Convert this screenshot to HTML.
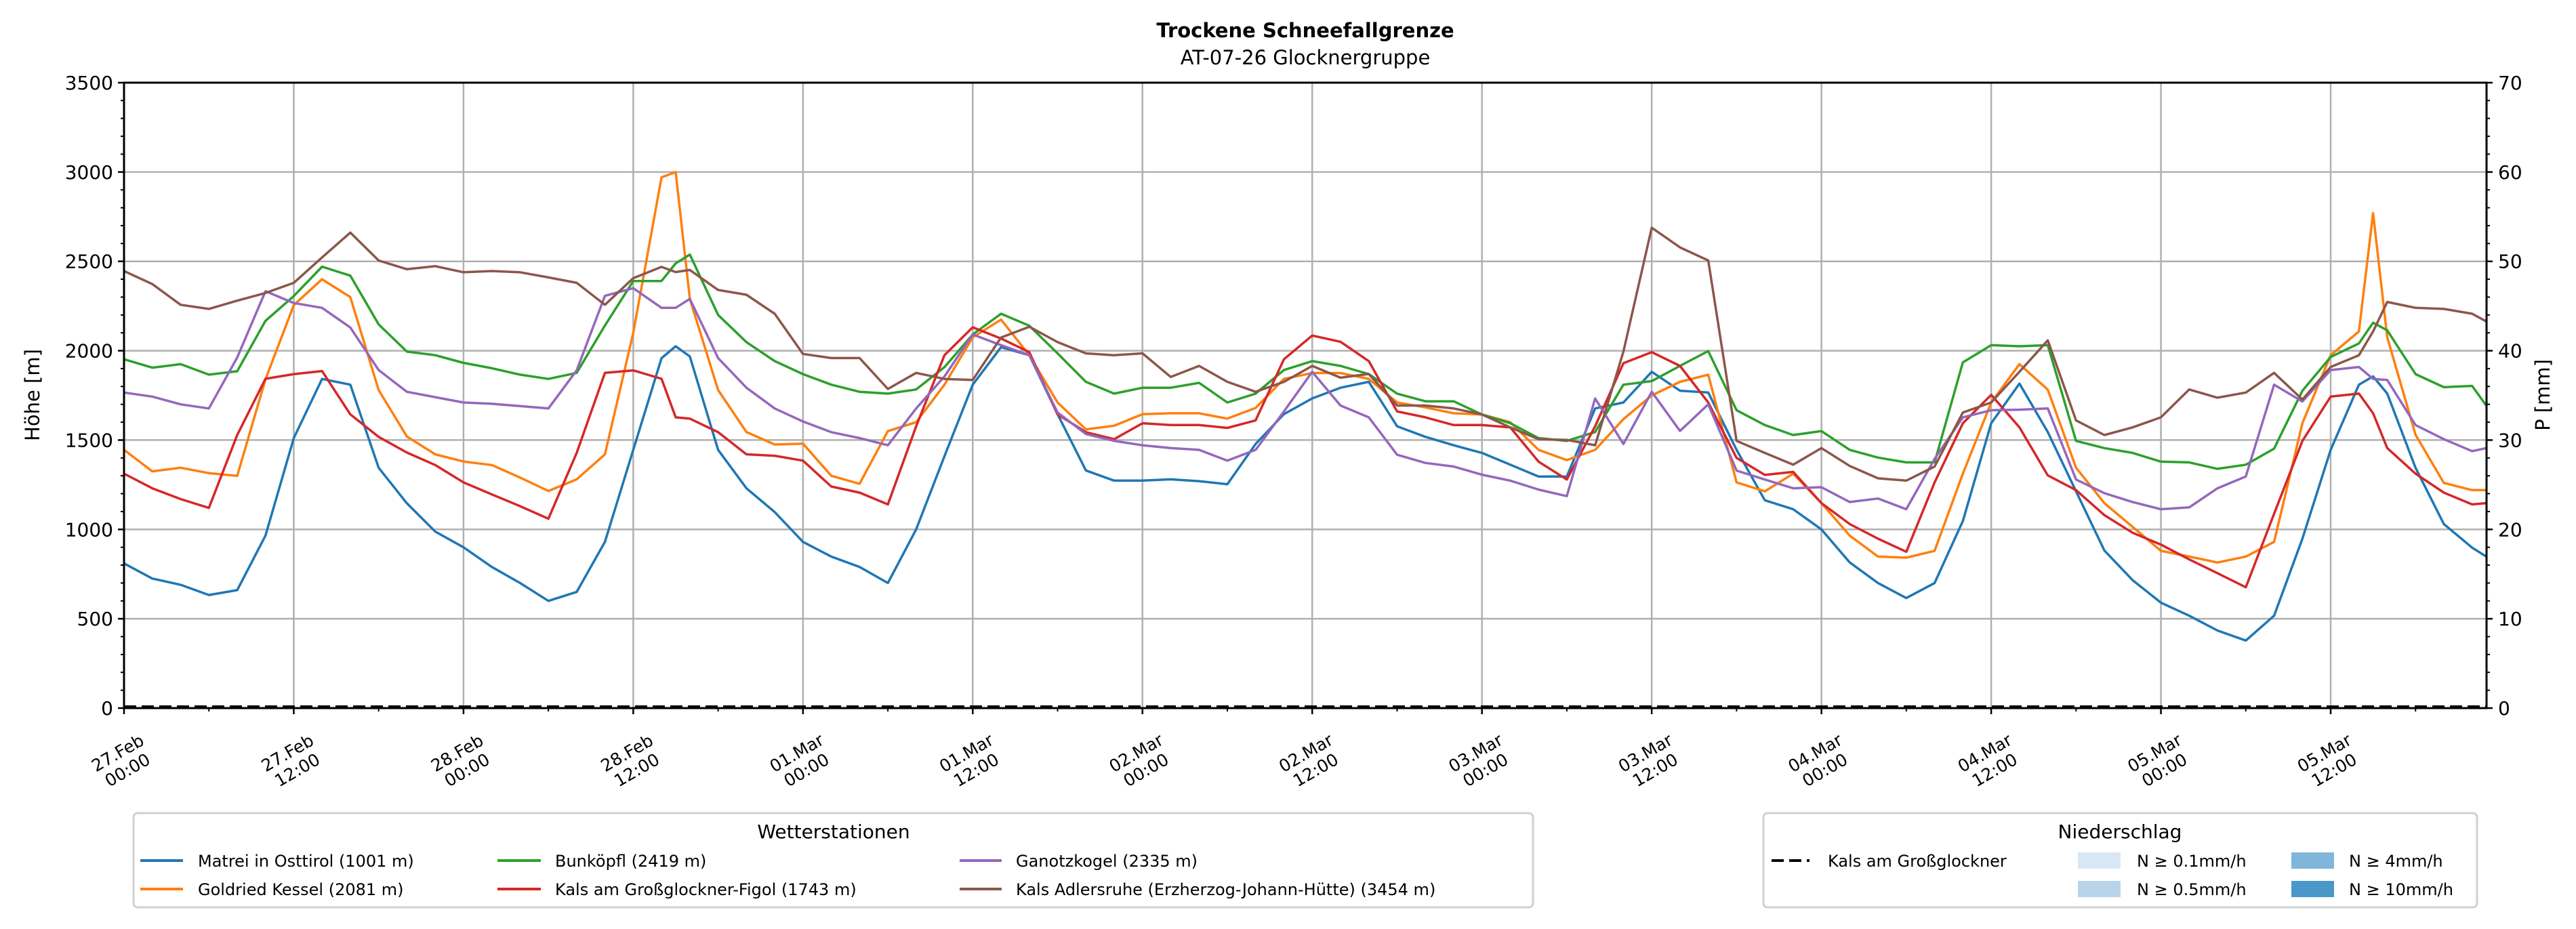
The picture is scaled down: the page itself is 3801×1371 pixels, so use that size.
<!DOCTYPE html>
<html><head><meta charset="utf-8">
<style>
html,body{margin:0;padding:0;background:#fff;}
svg{display:block;font-family:"DejaVu Sans","Liberation Sans",sans-serif;}
</style></head>
<body>
<svg id="chart" width="3801" height="1371" viewBox="0 0 3801 1371" xmlns="http://www.w3.org/2000/svg">
<rect width="3801" height="1371" fill="#fff"/>
<text x="1926" y="55" text-anchor="middle" font-size="29" font-weight="bold">Trockene Schneefallgrenze</text>
<text x="1926" y="95" text-anchor="middle" font-size="29">AT-07-26 Glocknergruppe</text>
<g id="grid"></g>
<g id="series"></g>
<g id="axes"></g>
<text transform="translate(58,583) rotate(-90)" text-anchor="middle" font-size="29">Höhe [m]</text>
<text transform="translate(3762,583) rotate(-90)" text-anchor="middle" font-size="29">P [mm]</text>

<g>
<rect x="197" y="1200" width="2065" height="139" rx="6" fill="#fff" stroke="#d0d0d0" stroke-width="3"/>
<text x="1230" y="1237" text-anchor="middle" font-size="28">Wetterstationen</text>
<g><line x1="207" y1="1270" x2="270" y2="1270" stroke="#1f77b4" stroke-width="4"/><text x="292" y="1279" font-size="24">Matrei in Osttirol (1001 m)</text></g>
<g><line x1="207" y1="1312" x2="270" y2="1312" stroke="#ff7f0e" stroke-width="4"/><text x="292" y="1321" font-size="24">Goldried Kessel (2081 m)</text></g>
<g><line x1="734" y1="1270" x2="798" y2="1270" stroke="#2ca02c" stroke-width="4"/><text x="819" y="1279" font-size="24">Bunköpfl (2419 m)</text></g>
<g><line x1="734" y1="1312" x2="798" y2="1312" stroke="#d62728" stroke-width="4"/><text x="819" y="1321" font-size="24">Kals am Großglockner-Figol (1743 m)</text></g>
<g><line x1="1416" y1="1270" x2="1478" y2="1270" stroke="#9467bd" stroke-width="4"/><text x="1499" y="1279" font-size="24">Ganotzkogel (2335 m)</text></g>
<g><line x1="1416" y1="1312" x2="1478" y2="1312" stroke="#8c564b" stroke-width="4"/><text x="1499" y="1321" font-size="24">Kals Adlersruhe (Erzherzog-Johann-Hütte) (3454 m)</text></g>
</g>

<g>
<rect x="2602" y="1200" width="1053" height="139" rx="6" fill="#fff" stroke="#d0d0d0" stroke-width="3"/>
<text x="3128" y="1237" text-anchor="middle" font-size="28">Niederschlag</text>
<g><line x1="2614" y1="1270" x2="2670" y2="1270" stroke="#000" stroke-width="4" stroke-dasharray="18,8"/><text x="2697" y="1279" font-size="24">Kals am Großglockner</text></g>
<g><rect x="3066" y="1258" width="63" height="24" fill="#d9e7f5"/><text x="3153" y="1279" font-size="24">N ≥ 0.1mm/h</text></g>
<g><rect x="3066" y="1300" width="63" height="24" fill="#b8d4ea"/><text x="3153" y="1321" font-size="24">N ≥ 0.5mm/h</text></g>
<g><rect x="3381" y="1258" width="63" height="24" fill="#7fb6da"/><text x="3466" y="1279" font-size="24">N ≥ 4mm/h</text></g>
<g><rect x="3381" y="1300" width="63" height="24" fill="#4a98c9"/><text x="3466" y="1321" font-size="24">N ≥ 10mm/h</text></g>
</g>
</svg>
<script>
const hours = [0,2,4,6,8,10,12,14,16,18, 20,22,24,26,28,30,32,34,36,38, 39,40,42,44,46,48,50,52,54,56, 58,60,62,64,66,68,70,72,74,76, 78,80,82,84,86,88,90,92,94,96, 98,100,102,104,106,108,110,112,114,116, 118,120,122,124,126,128,130,132,134,136, 138,140,142,144,146,148,150,152,154,156, 158,159,160,162,164,166,167];
const matrei = [810,725,690,633,660,965,1511,1842,1810,1345, 1146,988,900,790,700,600,650,930,1445,1958, 2025,1968,1445,1230,1097,930,848,790,700,1000, 1410,1810,2020,1975,1645,1330,1273,1273,1280,1270, 1253,1478,1645,1733,1793,1826,1577,1518,1471,1428, 1362,1296,1296,1677,1710,1882,1776,1766,1445,1163, 1113,1000,815,700,616,700,1047,1594,1816,1545, 1213,882,716,590,517,434,378,517,948,1445, 1810,1856,1760,1345,1030,898,848];
const goldried = [1445,1325,1345,1315,1300,1840,2255,2400,2300,1780, 1520,1420,1380,1360,1290,1215,1280,1420,2100,2970, 3000,2290,1780,1545,1475,1480,1300,1255,1550,1600, 1810,2075,2174,1975,1710,1560,1580,1645,1650,1650, 1620,1680,1842,1875,1875,1842,1710,1683,1650,1643, 1600,1445,1388,1445,1617,1750,1826,1866,1263,1213, 1312,1147,965,848,842,880,1312,1710,1925,1782, 1345,1147,1014,880,848,815,848,930,1594,1975, 2108,2770,2075,1530,1260,1220,1220];
const bunkoepfl = [1952,1905,1925,1866,1885,2167,2306,2470,2420,2147, 1995,1975,1932,1902,1866,1842,1876,2141,2390,2390, 2489,2538,2200,2048,1942,1869,1810,1770,1760,1783, 1908,2091,2207,2140,1985,1826,1760,1793,1793,1820, 1710,1760,1892,1942,1915,1869,1760,1717,1717,1643, 1594,1511,1495,1545,1810,1830,1915,1998,1667,1584, 1528,1550,1445,1402,1375,1375,1935,2031,2025,2031, 1495,1455,1428,1379,1375,1339,1362,1452,1776,1965, 2041,2157,2114,1869,1796,1803,1693];
const kalsFigol = [1312,1230,1170,1120,1528,1843,1869,1886,1644,1518, 1430,1360,1263,1196,1130,1060,1428,1876,1890,1843, 1627,1620,1544,1420,1412,1385,1240,1206,1140,1577, 1975,2131,2068,1992,1644,1544,1505,1594,1584,1584, 1568,1610,1952,2085,2050,1942,1660,1627,1584,1584, 1571,1379,1279,1577,1930,1992,1915,1710,1400,1305, 1322,1147,1030,948,875,1263,1594,1753,1571,1302, 1220,1080,981,915,832,755,676,1087,1495,1743, 1760,1650,1455,1312,1206,1140,1147];
const ganotzkogel = [1766,1743,1700,1677,1962,2333,2267,2240,2130,1892, 1770,1740,1710,1703,1690,1677,1890,2307,2350,2240, 2240,2290,1959,1793,1677,1604,1544,1511,1471,1677, 1856,2091,2031,1975,1654,1534,1495,1471,1455,1445, 1385,1445,1660,1882,1693,1627,1418,1372,1352,1306, 1273,1223,1186,1733,1478,1770,1551,1700,1329,1279, 1230,1236,1153,1173,1113,1395,1627,1667,1670,1677, 1279,1203,1153,1113,1123,1230,1296,1810,1716,1892, 1909,1842,1836,1584,1505,1438,1455];
const adlersruhe = [2446,2373,2257,2234,2280,2323,2380,2522,2661,2505, 2456,2473,2439,2446,2439,2410,2380,2257,2406,2469, 2440,2452,2340,2313,2207,1982,1959,1959,1786,1876, 1842,1836,2074,2134,2048,1985,1975,1985,1853,1915, 1826,1770,1826,1915,1849,1870,1693,1693,1677,1643, 1571,1505,1501,1471,1995,2688,2578,2505,1495,1428, 1362,1455,1355,1286,1273,1352,1654,1710,1882,2058, 1610,1528,1571,1627,1783,1737,1766,1876,1727,1909, 1975,2108,2273,2240,2234,2207,2164];
const precipHours = [0,167];
const precipValues = [0,0];
const yTicks = [0,500,1000,1500,2000,2500,3000,3500];
const y2Ticks = [0,10,20,30,40,50,60,70];
const xTickLabels = [["27.Feb","00:00"],["27.Feb","12:00"],["28.Feb","00:00"],["28.Feb","12:00"],["01.Mar","00:00"],["01.Mar","12:00"],["02.Mar","00:00"],["02.Mar","12:00"],["03.Mar","00:00"],["03.Mar","12:00"],["04.Mar","00:00"],["04.Mar","12:00"],["05.Mar","00:00"],["05.Mar","12:00"]];

const NS="http://www.w3.org/2000/svg";
const L=183,R=3669,T=122,B=1045,HMAX=167;
function x(h){return L+h*(3439-183)/156;}
function y(v){return B-v*(B-T)/3500;}
function y2(p){return B-p*(B-T)/70;}
function mk(tag,attrs,parent){const e=document.createElementNS(NS,tag);for(const k in attrs)e.setAttribute(k,attrs[k]);parent.appendChild(e);return e;}
const grid=document.getElementById('grid'),axes=document.getElementById('axes'),ser=document.getElementById('series');

yTicks.forEach(v=>{
  const g=mk('line',{x1:L,x2:R,y1:y(v),y2:y(v),stroke:'#b0b0b0','stroke-width':2.5},grid);
  
  
  const t=mk('line',{x1:L-9,x2:L,y1:y(v),y2:y(v),stroke:'#000','stroke-width':2.5},axes);
  
  
  const lb=mk('text',{x:L-16,y:y(v)+10,'text-anchor':'end','font-size':28},axes);
  lb.textContent=v;
  
  
});
for(let v=0;v<=3500;v+=100){if(v%500===0)continue;
  const t=mk('line',{x1:L-5,x2:L,y1:y(v),y2:y(v),stroke:'#000','stroke-width':2},axes);
  
  }
y2Ticks.forEach(p=>{
  const t=mk('line',{x1:R,x2:R+9,y1:y2(p),y2:y2(p),stroke:'#000','stroke-width':2.5},axes);
  
  
  const lb=mk('text',{x:R+17,y:y2(p)+10,'font-size':28},axes);
  lb.textContent=p;
  
  
});
for(let p=0;p<=70;p+=2){if(p%10===0)continue;
  const t=mk('line',{x1:R,x2:R+5,y1:y2(p),y2:y2(p),stroke:'#000','stroke-width':2},axes);
  
  }
xTickLabels.forEach((lab,i)=>{
  const h=i*12,xx=x(h);
  const g=mk('line',{x1:xx,x2:xx,y1:T,y2:B,stroke:'#b0b0b0','stroke-width':2.5},grid);
  
  
  const t=mk('line',{x1:xx,x2:xx,y1:B,y2:B+9,stroke:'#000','stroke-width':2.5},axes);
  
  
  const tx=mk('text',{transform:`translate(${xx-2},1124) rotate(-30)`,'text-anchor':'middle','font-size':25},axes);
  
  
  const a=mk('tspan',{x:0,y:-6},tx);a.textContent=lab[0];
  const b=mk('tspan',{x:0,y:23},tx);b.textContent=lab[1];
});
for(let h=6;h<=HMAX;h+=12){
  const t=mk('line',{x1:x(h),x2:x(h),y1:B,y2:B+5,stroke:'#000','stroke-width':2},axes);
  
  }

const seriesDefs=[['matrei',matrei,'#1f77b4'],['goldried',goldried,'#ff7f0e'],['bunkoepfl',bunkoepfl,'#2ca02c'],['kals-figol',kalsFigol,'#d62728'],['ganotzkogel',ganotzkogel,'#9467bd'],['adlersruhe',adlersruhe,'#8c564b']];
seriesDefs.forEach(([n,vals,c])=>{
  const d=vals.map((v,i)=>(i?'L':'M')+x(hours[i]).toFixed(1)+','+y(v).toFixed(1)).join(' ');
  const p=mk('path',{d:d,fill:'none',stroke:c,'stroke-width':3.5,'stroke-linejoin':'round'},ser);
  
  
});
const pd=precipHours.map((h,i)=>(i?'L':'M')+x(h)+','+(y2(precipValues[i])-2)).join(' ');
const pl=mk('path',{d:pd,fill:'none',stroke:'#000','stroke-width':4,'stroke-dasharray':'18,8'},ser);


const fr=mk('rect',{x:L,y:T,width:R-L,height:B-T,fill:'none',stroke:'#000','stroke-width':3},axes);


</script>
</body></html>
